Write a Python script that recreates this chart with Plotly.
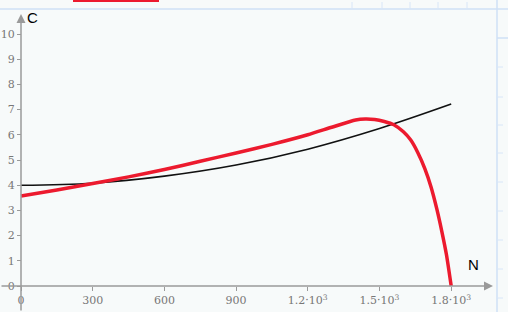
import plotly.graph_objects as go

# Data
n_black = [0, 300, 600, 900, 1200, 1500, 1800]
c_black = [4.0, 4.08, 4.36, 4.8, 5.43, 6.25, 7.22]

n_red = [0, 150, 300, 450, 600, 750, 900, 1050, 1200, 1300, 1400, 1440, 1480, 1520,
         1560, 1600, 1630, 1660, 1690, 1715, 1740, 1760, 1780, 1800]
c_red = [3.57, 3.81, 4.07, 4.33, 4.62, 4.95, 5.28, 5.62, 6.0, 6.3, 6.59, 6.63, 6.61, 6.53,
         6.40, 6.12, 5.80, 5.30, 4.65, 3.95, 3.05, 2.2, 1.25, 0.0]

x_ticks = [0, 300, 600, 900, 1200, 1500, 1800]
x_ticktext = ["0", "300", "600", "900", "1.2·10<sup>3</sup>", "1.5·10<sup>3</sup>", "1.8·10<sup>3</sup>"]
y_ticks = list(range(0, 11))

W, H = 508, 312
px_x = 300 / 71.7
px_y = 1 / 25.2
x0 = -21 * px_x
x1 = (W - 21) * px_x
y1 = 286 * px_y
y0 = -(H - 286) * px_y

axis_col = "#9a9a9a"
lbl_col = "#777777"

fig = go.Figure()
fig.add_trace(go.Scatter(x=n_black, y=c_black, mode="lines",
                         line=dict(color="#111111", width=1.6, shape="spline"),
                         showlegend=False, hoverinfo="skip"))
fig.add_trace(go.Scatter(x=n_red, y=c_red, mode="lines",
                         line=dict(color="#ec1a2e", width=3.5, shape="spline", smoothing=0.6),
                         showlegend=False, hoverinfo="skip"))

shapes = [
    # faint page lines (blue)
    dict(type="line", xref="paper", yref="paper", x0=0, x1=1, y0=1 - 9 / H, y1=1 - 9 / H,
         line=dict(color="#cfe0f6", width=1.5)),
    dict(type="line", xref="paper", yref="paper", x0=497 / W, x1=497 / W, y0=0, y1=1,
         line=dict(color="#cfe0f6", width=1.5)),
    dict(type="line", xref="paper", yref="paper", x0=497 / W, x1=1, y0=1 - 38 / H, y1=1 - 38 / H,
         line=dict(color="#cfe0f6", width=1.5)),
    # red region bar at top
    dict(type="line", xref="paper", yref="paper", x0=73 / W, x1=159 / W, y0=1 - 1 / H, y1=1 - 1 / H,
         line=dict(color="#ec1a2e", width=2)),
]
for yy in [67, 97, 125, 153, 182, 211, 240, 269, 298]:
    shapes.append(dict(type="line", xref="paper", yref="paper", x0=497 / W, x1=503 / W,
                       y0=1 - yy / H, y1=1 - yy / H, line=dict(color="#d8e6f8", width=1)))
for xx in [352, 382, 410, 438, 467]:
    shapes.append(dict(type="line", xref="paper", yref="paper", x0=xx / W, x1=xx / W,
                       y0=1 - 2 / H, y1=1 - 9 / H, line=dict(color="#d8e6f8", width=1)))

annotations = [
    dict(x=(493 - 21) * px_x, y=0, ax=x0, ay=0, xref="x", yref="y", axref="x", ayref="y",
         showarrow=True, arrowhead=2, arrowsize=1.2, arrowwidth=1.5, arrowcolor=axis_col, text=""),
    dict(x=0, y=(286 - 14) * px_y, ax=0, ay=y0, xref="x", yref="y", axref="x", ayref="y",
         showarrow=True, arrowhead=2, arrowsize=1.2, arrowwidth=1.5, arrowcolor=axis_col, text=""),
    dict(x=32 / W, y=1 - 17 / H, xref="paper", yref="paper", text="C", showarrow=False,
         xanchor="center", yanchor="middle", font=dict(family="Liberation Sans", size=15, color="#000")),
    dict(x=473 / W, y=1 - 264 / H, xref="paper", yref="paper", text="N", showarrow=False,
         xanchor="center", yanchor="middle", font=dict(family="Liberation Sans", size=15, color="#000")),
]

fig.update_layout(
    width=W, height=H, margin=dict(l=0, r=0, t=0, b=0),
    paper_bgcolor="#f7fafa", plot_bgcolor="#f7fafa",
    shapes=shapes, annotations=annotations,
    xaxis=dict(range=[x0, x1], domain=[0, 1], anchor="free", position=(H - 286) / H,
               showgrid=False, zeroline=False, showline=False,
               tickvals=x_ticks, ticktext=x_ticktext, ticks="outside", ticklen=4,
               tickcolor=axis_col, tickwidth=1,
               tickfont=dict(family="DejaVu Serif", size=11, color=lbl_col)),
    yaxis=dict(range=[y0, y1], domain=[0, 1], anchor="free", position=21 / W,
               showgrid=False, zeroline=False, showline=False,
               tickvals=y_ticks, ticks="outside", ticklen=4, tickcolor=axis_col, tickwidth=1,
               tickfont=dict(family="DejaVu Serif", size=11, color=lbl_col)),
)

fig.write_html("out.html")
